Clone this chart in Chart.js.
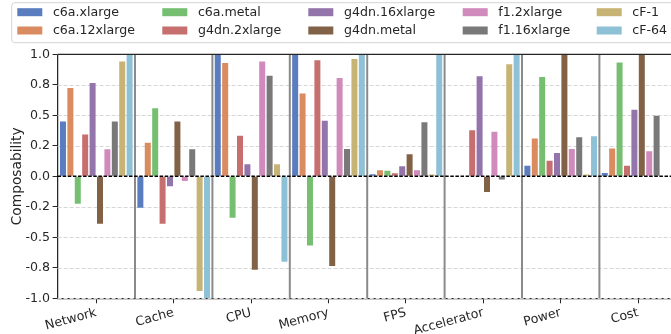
<!DOCTYPE html>
<html><head><meta charset="utf-8">
<script src="https://cdn.jsdelivr.net/npm/chart.js@4.4.0/dist/chart.umd.min.js"></script>
<style>html,body{margin:0;padding:0;background:#fff;overflow:hidden;}#wrap{width:680px;height:334px;}</style>
</head><body><div id="wrap"><canvas id="c" width="680" height="334"></canvas></div>
<script>
const categories = ['Network','Cache','CPU','Memory','FPS','Accelerator','Power','Cost'];
const seriesNames = ['c6a.xlarge','c6a.12xlarge','c6a.metal','g4dn.2xlarge','g4dn.16xlarge','g4dn.metal','f1.2xlarge','f1.16xlarge','cF-1','cF-64'];
const c6aXlarge    = [0.45, -0.257, 1.0, 1.0, 0.016, 0, 0.087, 0.027];
const c6a12xlarge  = [0.724, 0.276, 0.929, 0.678, 0.049, 0, 0.309, 0.227];
const c6aMetal     = [-0.224, 0.557, -0.339, -0.568, 0.046, 0, 0.814, 0.932];
const g4dn2xlarge  = [0.342, -0.388, 0.333, 0.951, 0.025, 0.377, 0.128, 0.087];
const g4dn16xlarge = [0.765, -0.082, 0.098, 0.456, 0.082, 0.82, 0.191, 0.546];
const g4dnMetal    = [-0.388, 0.45, -0.765, -0.735, 0.18, -0.128, 1.0, 1.0];
const f12xlarge    = [0.221, -0.038, 0.94, 0.806, 0.049, 0.366, 0.224, 0.205];
const f116xlarge   = [0.45, 0.221, 0.825, 0.224, 0.443, -0.027, 0.32, 0.497];
const cF1          = [0.94, -0.94, 0.098, 0.962, 0.014, 0.918, 0.014, 0];
const cF64         = [1.0, -1.0, -0.70, 1.0, 1.0, 1.0, 0.328, 0];
const seriesValues = [c6aXlarge, c6a12xlarge, c6aMetal, g4dn2xlarge, g4dn16xlarge, g4dnMetal, f12xlarge, f116xlarge, cF1, cF64];
const yTickValues = [-1, -0.75, -0.5, -0.25, 0, 0.25, 0.5, 0.75, 1];
const yTickLabels = ['-1.0','-0.8','-0.5','-0.2','0.0','0.2','0.5','0.8','1.0'];

const colors = ['#597DBF','#DA8B5F','#76BF71','#C76E6E','#9475AB','#826246','#D08ABB','#797979','#C7B475','#8EC1D6'];
const FONT = 'DejaVu Sans';
const TXT = '#262626';

const datasets = seriesNames.map((n, i) => ({
  label: n, data: seriesValues[i], backgroundColor: colors[i], borderWidth: 0,
  categoryPercentage: 0.957, barPercentage: 0.81
}));

const decor = {
  id: 'decor',
  beforeDatasetsDraw(chart) {
    const {ctx, chartArea: a, scales: {y}} = chart;
    ctx.save();
    ctx.strokeStyle = '#d6d6d6'; ctx.lineWidth = 1; ctx.setLineDash([4, 2]);
    yTickValues.forEach(v => {
      if (v === 0) return;
      const py = Math.round(y.getPixelForValue(v)) + 0.5;
      ctx.beginPath(); ctx.moveTo(a.left, py); ctx.lineTo(a.right, py); ctx.stroke();
    });
    ctx.restore();
  },
  afterDatasetsDraw(chart) {
    const {ctx, chartArea: a, scales: {x, y}} = chart;
    ctx.save();
    ctx.strokeStyle = '#8a8a8a'; ctx.lineWidth = 2;
    for (let i = 0; i < categories.length - 1; i++) {
      const px = (x.getPixelForValue(i) + x.getPixelForValue(i + 1)) / 2;
      ctx.beginPath(); ctx.moveTo(px, a.top); ctx.lineTo(px, a.bottom); ctx.stroke();
    }
    const zy = y.getPixelForValue(0);
    ctx.strokeStyle = '#000'; ctx.lineWidth = 1.5; ctx.setLineDash([3.5, 1.6]);
    ctx.beginPath(); ctx.moveTo(a.left, zy); ctx.lineTo(a.right, zy); ctx.stroke();
    ctx.setLineDash([]);
    ctx.strokeStyle = TXT; ctx.lineWidth = 1.25;
    ctx.beginPath(); ctx.moveTo(a.left, a.top); ctx.lineTo(a.right, a.top); ctx.stroke();
    ctx.restore();
  },
  afterDraw(chart) {
    const ctx = chart.ctx;
    ctx.save();
    ctx.fillStyle = 'rgba(255,255,255,0.85)';
    ctx.strokeStyle = '#d4d4d4'; ctx.lineWidth = 1;
    ctx.beginPath();
    ctx.roundRect(11.7, 2.7, 700, 40, 3);
    ctx.fill(); ctx.stroke();
    const colX = [17.3, 162.3, 308.3, 462.7, 596.7];
    const rowY = [12.2, 30.5];
    ctx.font = '12.6px "' + FONT + '"';
    ctx.textBaseline = 'middle'; ctx.fillStyle = TXT;
    seriesNames.forEach((n, i) => {
      const c = Math.floor(i / 2), r = i % 2;
      ctx.fillStyle = colors[i];
      ctx.fillRect(colX[c], rowY[r] - 4, 25, 8);
      ctx.fillStyle = TXT;
      ctx.fillText(n, colX[c] + 35.6, rowY[r] + 0.5);
    });
    ctx.restore();
  }
};

new Chart(document.getElementById('c'), {
  type: 'bar',
  data: { labels: categories, datasets },
  options: {
    responsive: false, animation: false, devicePixelRatio: 1,
    layout: { padding: { top: 54.3, right: 3.2, left: 0, bottom: 0 } },
    plugins: { legend: { display: false }, tooltip: { enabled: false } },
    scales: {
      x: {
        offset: true,
        grid: { drawOnChartArea: false, offset: false, drawTicks: true, tickLength: 5, tickColor: TXT, tickWidth: 1 },
        border: { display: true, color: TXT, width: 1.25 },
        ticks: { autoSkip: false, minRotation: 15, maxRotation: 15, padding: 2, color: TXT, font: { family: FONT, size: 12.6 } },
        afterFit: s => { s.height = 35.7; }
      },
      y: {
        min: -1, max: 1,
        afterBuildTicks: s => { s.ticks = yTickValues.map(v => ({ value: v })); },
        grid: { drawOnChartArea: false, drawTicks: true, tickLength: 5, tickColor: TXT, tickWidth: 1 },
        border: { display: true, color: TXT, width: 1.25 },
        ticks: {
          padding: 2.5, color: TXT, font: { family: FONT, size: 12.6 },
          callback: v => { const i = yTickValues.findIndex(t => Math.abs(t - v) < 1e-9); return i >= 0 ? yTickLabels[i] : ''; }
        },
        title: { display: true, text: 'Composability', color: TXT, font: { family: FONT, size: 13.75 }, padding: { top: 9, bottom: 0 } },
        afterFit: s => { s.width = 57.6; }
      }
    }
  },
  plugins: [decor]
});
</script></body></html>
